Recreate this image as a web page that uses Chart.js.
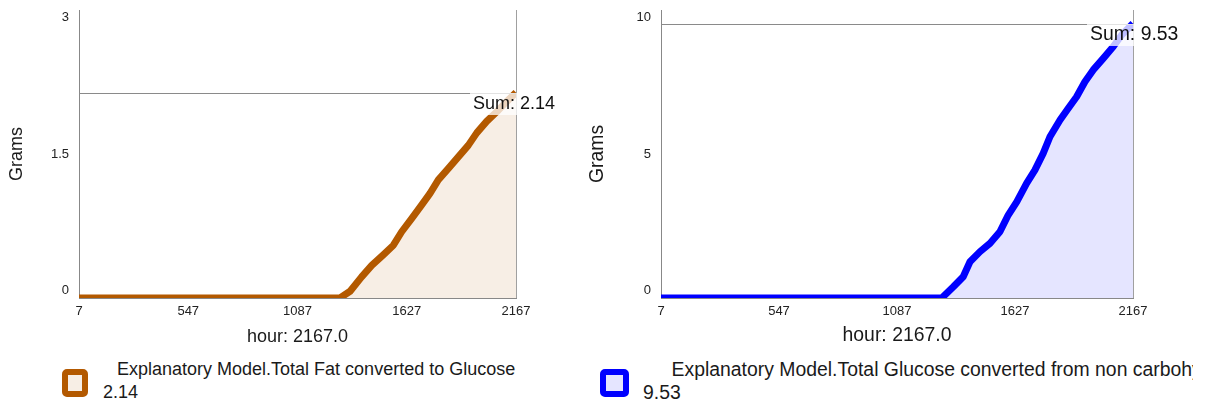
<!DOCTYPE html>
<html>
<head>
<meta charset="utf-8">
<script src="https://cdn.jsdelivr.net/npm/chart.js@4.4.1/dist/chart.umd.min.js"></script>
<style>
html,body{margin:0;padding:0;background:#fff;width:1205px;height:405px;overflow:hidden;font-family:"Liberation Sans",Arial,sans-serif;}
.wrap{position:absolute;top:0;height:350px;}
#w1{left:0;width:580px;}
#w2{left:582px;width:623px;}
.box{position:absolute;box-sizing:border-box;border:6px solid;border-radius:5px;}
.ltext{position:absolute;top:358px;line-height:23px;color:#1a1a1a;white-space:nowrap;overflow:hidden;}
</style>
</head>
<body>
<div class="wrap" id="w1"><canvas id="c1" width="580" height="350"></canvas></div>
<div class="wrap" id="w2"><canvas id="c2" width="623" height="350"></canvas></div>

<div class="box" id="b1" style="left:62px;top:369px;width:26px;height:28px;"></div>
<div class="ltext" id="t1" style="left:103px;width:470px;font-size:18px;"></div>
<div class="box" id="b2" style="left:600px;top:369px;width:29px;height:28px;"></div>
<div class="ltext" id="t2" style="left:643px;width:550px;font-size:19.4px;"></div>

<script>
// ---- data ----
const xTickValues = [7, 547, 1087, 1627, 2167];
const fatYTicks = [0, 1.5, 3];
const glucoseYTicks = [0, 5, 10];

const fatLabel = "Explanatory Model.Total Fat converted to Glucose";
const fatHours  = [7, 1297, 1347, 1404, 1454, 1511, 1561, 1602, 1652, 1701, 1742, 1783, 1833, 1882, 1931, 1973, 2022, 2072, 2113, 2167];
const fatValues = [0, 0, 0.07, 0.22, 0.34, 0.45, 0.55, 0.69, 0.83, 0.97, 1.09, 1.23, 1.35, 1.47, 1.59, 1.72, 1.84, 1.94, 2.03, 2.14];

const glucoseLabel = "Explanatory Model.Total Glucose converted from non carbohydrate sources";
const glucoseHours  = [7, 1292, 1345, 1390, 1421, 1467, 1513, 1558, 1596, 1635, 1680, 1718, 1756, 1787, 1833, 1871, 1909, 1947, 1985, 2031, 2077, 2115, 2167];
const glucoseValues = [0, 0, 0.39, 0.74, 1.26, 1.61, 1.90, 2.30, 2.88, 3.34, 3.98, 4.44, 5.02, 5.60, 6.18, 6.59, 6.99, 7.51, 7.92, 8.32, 8.73, 9.13, 9.53];

const xTitle = "hour: 2167.0";
const yTitle = "Grams";

// ---- chart builder ----
const FONT = "'Liberation Sans', Arial, sans-serif";

function fmt(v){ return String(Math.round(v*100)/100); }

const sumPlugin = {
  id: 'sumLine',
  afterDatasetsDraw(chart, args, opts) {
    const {ctx, chartArea: a, scales} = chart;
    const y = Math.round(scales.y.getPixelForValue(opts.value)) + 0.5;
    ctx.save();
    // right border
    ctx.strokeStyle = '#a0a0a0';
    ctx.lineWidth = 1;
    ctx.beginPath();
    ctx.moveTo(Math.round(a.right) + 0.5, a.top);
    ctx.lineTo(Math.round(a.right) + 0.5, a.bottom);
    ctx.stroke();
    // sum line
    ctx.strokeStyle = '#8a8a8a';
    ctx.beginPath();
    ctx.moveTo(a.left, y);
    ctx.lineTo(a.right, y);
    ctx.stroke();
    // label
    const text = 'Sum: ' + fmt(opts.value);
    ctx.font = opts.fontSize + 'px ' + FONT;
    const tx = a.right - 43;
    const w = ctx.measureText(text).width;
    ctx.fillStyle = 'rgba(255,255,255,0.75)';
    ctx.fillRect(tx - 3, y - 0.5, w + 6, 22);
    ctx.fillStyle = '#111';
    ctx.textBaseline = 'middle';
    ctx.textAlign = 'left';
    ctx.fillText(text, tx, y + 10.5);
    ctx.restore();
  }
};

function makeChart(id, hours, values, yMax, yTicks, color, fillColor, padRight, yTitlePad, titleSize) {
  const pts = hours.map((h, i) => ({x: h, y: values[i]}));
  return new Chart(document.getElementById(id), {
    type: 'line',
    data: { datasets: [{
      data: pts,
      borderColor: color,
      backgroundColor: fillColor,
      borderWidth: 7,
      fill: 'origin',
      pointRadius: 0,
      tension: 0,
      borderJoinStyle: 'round',
      borderCapStyle: 'butt'
    }]},
    options: {
      responsive: false,
      animation: false,
      devicePixelRatio: 1,
      layout: { padding: { left: 0, top: 10, right: padRight, bottom: 0 } },
      plugins: {
        legend: { display: false },
        tooltip: { enabled: false },
        sumLine: { value: values[values.length - 1], fontSize: titleSize }
      },
      scales: {
        x: {
          type: 'linear', min: 7, max: 2167,
          afterBuildTicks: s => { s.ticks = xTickValues.map(v => ({value: v})); },
          afterFit: s => { s.height = 52; },
          grid: { display: false, drawTicks: false },
          border: { display: true, color: '#888', width: 1 },
          ticks: { autoSkip: false, maxRotation: 0, padding: 6, color: '#222',
                   font: { family: FONT, size: 13 }, callback: v => String(v) },
          title: { display: true, text: xTitle, color: '#1a1a1a',
                   font: { family: FONT, size: titleSize }, padding: { top: 0, bottom: 2.5 } }
        },
        y: {
          min: 0, max: yMax,
          afterBuildTicks: s => { s.ticks = yTicks.map(v => ({value: v})); },
          afterFit: s => { s.width = 79; s.paddingTop = 0; s.paddingBottom = 0; },
          grid: { display: false, drawTicks: false },
          border: { display: true, color: '#888', width: 1 },
          ticks: { padding: 10, color: '#222', font: { family: FONT, size: 13 },
                   callback: (v, i, arr) => {
                     const t = fmt(v);
                     if (i === 0) return [t, ''];
                     if (i === arr.length - 1) return ['', t];
                     return t;
                   } },
          title: { display: true, text: yTitle, color: '#1a1a1a',
                   font: { family: FONT, size: titleSize }, padding: { top: yTitlePad, bottom: 0 } }
        }
      }
    },
    plugins: [sumPlugin]
  });
}

makeChart('c1', fatHours, fatValues, 3, fatYTicks, '#b35900', 'rgba(179,89,0,0.1)', 64, 6, 18);
makeChart('c2', glucoseHours, glucoseValues, 10, glucoseYTicks, '#0000ff', 'rgba(0,0,255,0.1)', 72, 4.5, 19.4);

// ---- legends (HTML text) ----
function legend(boxId, textId, color, fillColor, label, value, indent) {
  const b = document.getElementById(boxId);
  b.style.borderColor = color;
  b.style.background = fillColor;
  const t = document.getElementById(textId);
  const l1 = document.createElement('div');
  l1.style.textIndent = indent + 'px';
  l1.textContent = label;
  const l2 = document.createElement('div');
  l2.textContent = fmt(value);
  t.appendChild(l1); t.appendChild(l2);
}
legend('b1', 't1', '#b35900', 'rgba(179,89,0,0.1)', fatLabel, fatValues[fatValues.length-1], 14);
legend('b2', 't2', '#0000ff', 'rgba(0,0,255,0.1)', glucoseLabel, glucoseValues[glucoseValues.length-1], 28.5);
</script>
</body>
</html>
